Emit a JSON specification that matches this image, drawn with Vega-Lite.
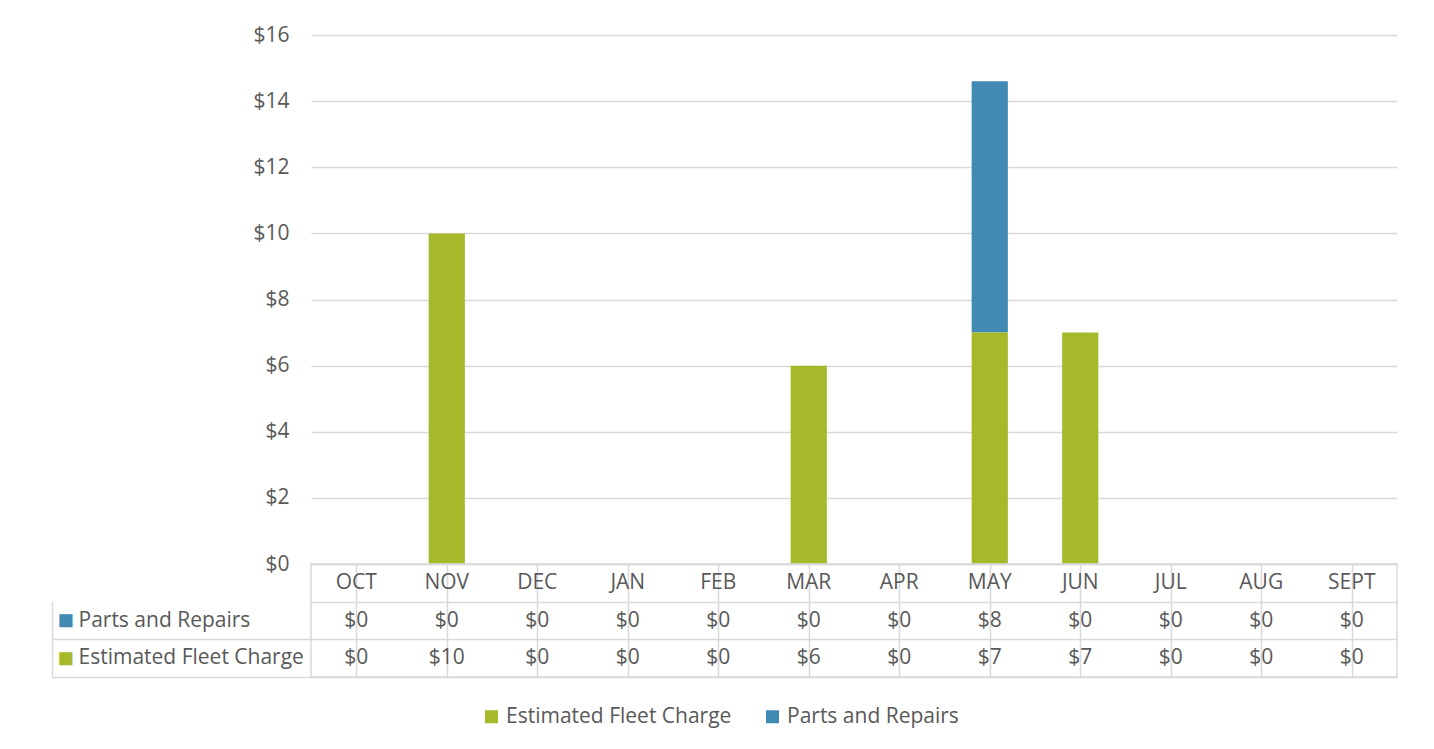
{
  "$schema": "https://vega.github.io/schema/vega-lite/v6.json",
  "padding": {"left": 50, "top": 24, "right": 5, "bottom": 5},
  "background": "white",
  "datasets": {
    "d": [
      {"month": "OCT", "series": "Parts and Repairs", "value": 0},
      {"month": "NOV", "series": "Parts and Repairs", "value": 0},
      {"month": "DEC", "series": "Parts and Repairs", "value": 0},
      {"month": "JAN", "series": "Parts and Repairs", "value": 0},
      {"month": "FEB", "series": "Parts and Repairs", "value": 0},
      {"month": "MAR", "series": "Parts and Repairs", "value": 0},
      {"month": "APR", "series": "Parts and Repairs", "value": 0},
      {"month": "MAY", "series": "Parts and Repairs", "value": 7.6},
      {"month": "JUN", "series": "Parts and Repairs", "value": 0},
      {"month": "JUL", "series": "Parts and Repairs", "value": 0},
      {"month": "AUG", "series": "Parts and Repairs", "value": 0},
      {"month": "SEPT", "series": "Parts and Repairs", "value": 0},
      {"month": "OCT", "series": "Estimated Fleet Charge", "value": 0},
      {"month": "NOV", "series": "Estimated Fleet Charge", "value": 10},
      {"month": "DEC", "series": "Estimated Fleet Charge", "value": 0},
      {"month": "JAN", "series": "Estimated Fleet Charge", "value": 0},
      {"month": "FEB", "series": "Estimated Fleet Charge", "value": 0},
      {"month": "MAR", "series": "Estimated Fleet Charge", "value": 6},
      {"month": "APR", "series": "Estimated Fleet Charge", "value": 0},
      {"month": "MAY", "series": "Estimated Fleet Charge", "value": 7},
      {"month": "JUN", "series": "Estimated Fleet Charge", "value": 7},
      {"month": "JUL", "series": "Estimated Fleet Charge", "value": 0},
      {"month": "AUG", "series": "Estimated Fleet Charge", "value": 0},
      {"month": "SEPT", "series": "Estimated Fleet Charge", "value": 0}
    ]
  },
  "config": {
    "font": "Open Sans",
    "view": {"stroke": null},
    "axis": {"labelFont": "Open Sans", "labelColor": "#595959", "labelFontSize": 21, "labelLimit": 0},
    "text": {"font": "Open Sans", "fontSize": 21, "color": "#595959"},
    "legend": {"labelFont": "Open Sans", "labelLimit": 0}
  },
  "spacing": 0,
  "bounds": "flush",
  "vconcat": [
    {
      "width": 1086,
      "height": 529,
      "data": {"name": "d"},
      "mark": {"type": "bar"},
      "encoding": {
        "x": {
          "field": "month", "type": "nominal",
          "sort": ["OCT","NOV","DEC","JAN","FEB","MAR","APR","MAY","JUN","JUL","AUG","SEPT"],
          "scale": {"paddingInner": 0.6, "paddingOuter": 0.3},
          "axis": null
        },
        "y": {
          "field": "value", "type": "quantitative", "stack": "zero",
          "scale": {"domain": [0, 16], "nice": false},
          "axis": {
            "values": [0, 2, 4, 6, 8, 10, 12, 14, 16],
            "labelExpr": "'$' + datum.value",
            "domain": false, "ticks": false, "grid": true,
            "gridColor": "#d9d9d9", "gridWidth": 1.5,
            "labelPadding": 22, "title": null
          }
        },
        "order": {"field": "series", "type": "nominal", "sort": "ascending"},
        "color": {
          "field": "series", "type": "nominal",
          "scale": {"domain": ["Estimated Fleet Charge", "Parts and Repairs"], "range": ["#A5B92A", "#418AB3"]},
          "legend": {
            "orient": "none", "legendX": 170, "legendY": 671,
            "direction": "horizontal", "title": null,
            "labelFontSize": 21, "labelColor": "#595959",
            "symbolType": "square", "symbolSize": 169, "symbolStrokeWidth": 0,
            "columnPadding": 30, "labelOffset": 4
          }
        }
      }
    },
    {
      "width": 1086,
      "height": 113,
      "data": {"name": "d"},
      "view": {"stroke": "#d9d9d9", "strokeWidth": 1.5},
      "layer": [
        {
          "mark": {"type": "text"},
          "encoding": {
            "x": {
              "field": "month", "type": "nominal",
              "sort": ["OCT","NOV","DEC","JAN","FEB","MAR","APR","MAY","JUN","JUL","AUG","SEPT"],
              "scale": {"paddingInner": 0, "paddingOuter": 0},
              "axis": {"orient": "top", "bandPosition": 0, "grid": true, "gridColor": "#d9d9d9", "gridWidth": 1.5, "labels": false, "ticks": false, "domain": false, "title": null}
            },
            "y": {
              "field": "series", "type": "nominal",
              "scale": {"domain": ["hdr", "Parts and Repairs", "Estimated Fleet Charge"]},
              "axis": {
                "orient": "left", "offset": 259, "title": null,
                "domain": true, "domainColor": "#d9d9d9", "domainWidth": 1.5, "domainDash": [0, 37, 200],
                "ticks": false, "grid": false,
                "labelExpr": "datum.value === 'hdr' ? '' : datum.value",
                "labelAlign": "left", "labelPadding": -26
              }
            },
            "text": {"field": "value", "type": "quantitative", "format": "$.0f"}
          }
        },
        {
          "transform": [{"filter": "datum.series === 'Parts and Repairs'"}],
          "mark": {"type": "text"},
          "encoding": {
            "x": {
              "field": "month", "type": "nominal",
              "sort": ["OCT","NOV","DEC","JAN","FEB","MAR","APR","MAY","JUN","JUL","AUG","SEPT"]
            },
            "y": {"datum": "hdr", "type": "nominal", "axis": null},
            "text": {"field": "month", "type": "nominal"}
          }
        },
        {
          "mark": {"type": "text"},
          "encoding": {
            "y": {
              "field": "series", "type": "nominal",
              "axis": {
                "orient": "left", "offset": 0, "title": null,
                "tickBand": "extent",
                "domain": false,
                "ticks": true, "tickSize": 259, "tickColor": "#d9d9d9", "tickWidth": 1.5,
                "tickOpacity": {"condition": {"test": "datum.value === 'hdr' || datum.value == null", "value": 0}, "value": 1},
                "grid": true, "gridColor": "#d9d9d9", "gridWidth": 1.5,
                "labelExpr": "(datum.value === 'Parts and Repairs' || datum.value === 'Estimated Fleet Charge') ? '■' : ''",
                "labelColor": {"condition": {"test": "datum.value === 'Parts and Repairs'", "value": "#418AB3"}, "value": "#A5B92A"},
                "labelAlign": "left", "labelPadding": -5, "labelFontSize": 27
              }
            },
            "text": {"value": ""}
          }
        }
      ],
      "resolve": {"axis": {"y": "independent"}}
    }
  ]
}
